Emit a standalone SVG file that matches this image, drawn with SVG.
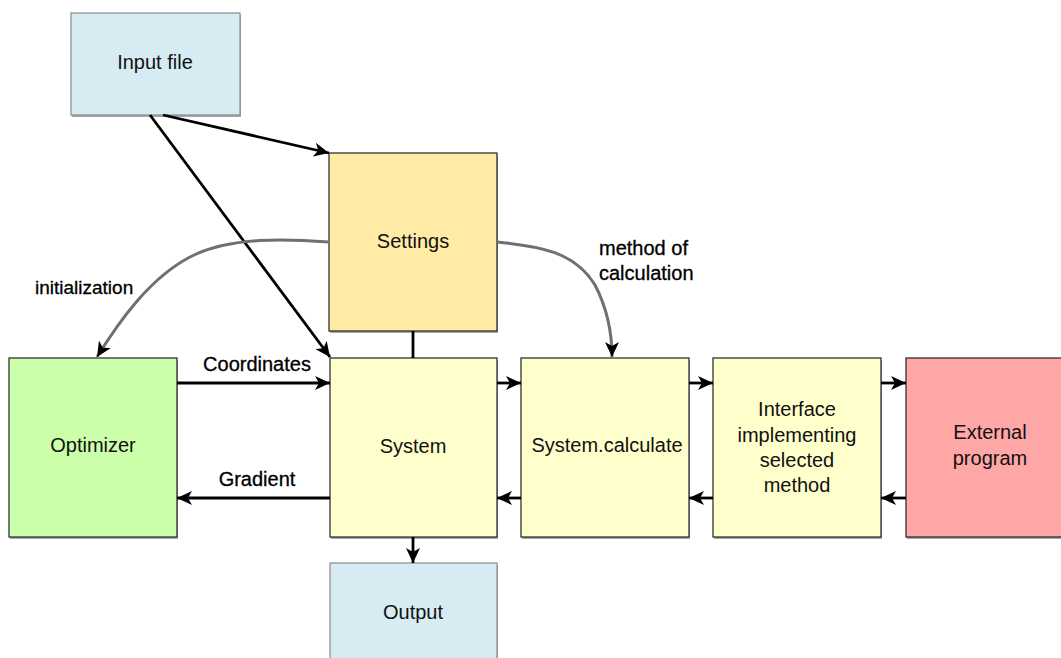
<svg xmlns="http://www.w3.org/2000/svg" width="1061" height="658" viewBox="0 0 1061 658">
<style>
.box{stroke:#222;stroke-width:1.2}
.shadow{fill:#a8a8a8}
.t{font-family:"Liberation Sans",Arial,sans-serif;font-size:20px;fill:#111;text-anchor:middle}
.lbl{font-family:"Liberation Sans",Arial,sans-serif;font-size:20px;fill:#000;stroke:#000;stroke-width:0.3}
.arr{fill:none;stroke:#000;stroke-width:2.8}
.curve{fill:none;stroke:#707070;stroke-width:3}
</style>
<defs>
<marker id="ah" markerUnits="userSpaceOnUse" markerWidth="16" markerHeight="14" viewBox="0 0 16 14" refX="15" refY="7" orient="auto">
<path d="M0,0 L15,7 L0,14 L4,7 Z" fill="#000"/>
</marker>
</defs>
<rect width="1061" height="658" fill="#fff"/>

<g id="input-file">
<rect class="shadow" x="72" y="15" width="169" height="102"/>
<rect class="box" x="71" y="13" width="169" height="102" fill="#d6ecf2" style="stroke:#8a8a8a"/>
<text class="t" x="155" y="69">Input file</text>
</g>
<g id="settings">
<rect class="shadow" x="330" y="155" width="168" height="178"/>
<rect class="box" x="329" y="153" width="168" height="178" fill="#ffeba6"/>
<text class="t" x="413" y="248">Settings</text>
</g>
<g id="optimizer">
<rect class="shadow" x="10" y="360" width="168" height="179"/>
<rect class="box" x="9" y="358" width="168" height="179" fill="#ccffaa"/>
<text class="t" x="93" y="452">Optimizer</text>
</g>
<g id="system">
<rect class="shadow" x="331" y="360" width="167" height="179"/>
<rect class="box" x="330" y="358" width="167" height="179" fill="#ffffcc"/>
<text class="t" x="413" y="453">System</text>
</g>
<g id="system-calculate">
<rect class="shadow" x="522" y="360" width="168" height="179"/>
<rect class="box" x="521" y="358" width="168" height="179" fill="#ffffcc"/>
<text class="t" x="607" y="452">System.calculate</text>
</g>
<g id="interface">
<rect class="shadow" x="714" y="360" width="168" height="179"/>
<rect class="box" x="713" y="358" width="168" height="179" fill="#ffffcc"/>
<text class="t" x="797" y="416">Interface</text>
<text class="t" x="797" y="442">implementing</text>
<text class="t" x="797" y="467">selected</text>
<text class="t" x="797" y="492">method</text>
</g>
<g id="external-program">
<rect class="shadow" x="907" y="360" width="160" height="179"/>
<rect class="box" x="906" y="358" width="160" height="179" fill="#ffa6a6"/>
<text class="t" x="990" y="439">External</text>
<text class="t" x="990" y="465">program</text>
</g>
<g id="output">
<rect class="shadow" x="331" y="565" width="167" height="100"/>
<rect class="box" x="330" y="563" width="167" height="100" fill="#d6ecf2" style="stroke:#8a8a8a"/>
<text class="t" x="413" y="619">Output</text>
</g>

<g id="connectors">
<path class="arr" d="M163,115 L329,153" marker-end="url(#ah)"/>
<path class="arr" d="M150,115 L330,357" marker-end="url(#ah)"/>
<path class="arr" d="M413,331 L413,358"/>
<path class="curve" d="M329,242 C290,239 230,236 190,257 C150,278 120,320 97,357" marker-end="url(#ah)"/>
<path class="curve" d="M497,242 C540,246 575,252 595,285 C608,310 612,335 612,357" marker-end="url(#ah)"/>
<path class="arr" d="M177,383 L330,383" marker-end="url(#ah)"/>
<path class="arr" d="M330,498 L177,498" marker-end="url(#ah)"/>
<path class="arr" d="M497,383 L521,383" marker-end="url(#ah)"/>
<path class="arr" d="M521,498 L497,498" marker-end="url(#ah)"/>
<path class="arr" d="M689,383 L713,383" marker-end="url(#ah)"/>
<path class="arr" d="M713,498 L689,498" marker-end="url(#ah)"/>
<path class="arr" d="M881,383 L906,383" marker-end="url(#ah)"/>
<path class="arr" d="M906,498 L881,498" marker-end="url(#ah)"/>
<path class="arr" d="M413,537 L413,563" marker-end="url(#ah)"/>
<text class="lbl" x="35" y="294" style="font-size:19px">initialization</text>
<text class="lbl" x="257" y="371" text-anchor="middle">Coordinates</text>
<text class="lbl" x="257" y="486" text-anchor="middle">Gradient</text>
<text class="lbl" x="599" y="255">method of</text>
<text class="lbl" x="599" y="280">calculation</text>
</g>
</svg>
